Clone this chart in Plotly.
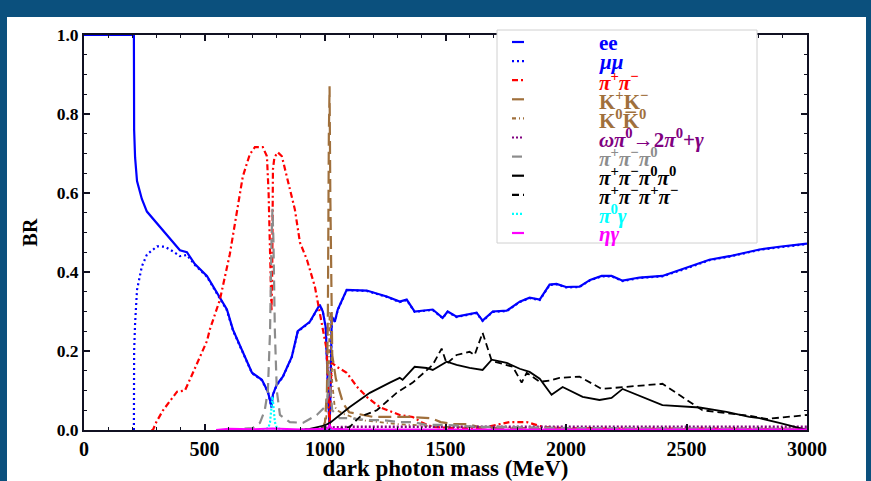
import plotly.graph_objects as go

# ---------------- data ----------------
ee_mass = [0, 207, 208, 212, 220, 240, 261, 300, 350, 398, 427, 460, 510, 564, 593, 618, 659, 697, 738, 763,
           772, 778, 784, 800, 825, 862, 887, 937, 978, 991, 1003, 1010, 1015, 1019, 1023, 1028, 1041, 1053,
           1090, 1173, 1256, 1310, 1339, 1372, 1447, 1488, 1509, 1546, 1629, 1654, 1696, 1754, 1808, 1849,
           1891, 1932, 1961, 2000, 2056, 2100, 2148, 2189, 2235, 2305, 2400, 2500, 2595, 2678, 2803, 2885, 3000]
ee_br = [1.0, 1.0, 0.76, 0.69, 0.63, 0.585, 0.553, 0.525, 0.49, 0.455, 0.45, 0.42, 0.39, 0.335, 0.305, 0.254,
         0.195, 0.145, 0.127, 0.097, 0.075, 0.058, 0.09, 0.115, 0.135, 0.185, 0.25, 0.274, 0.317, 0.30, 0.26,
         0.15, 0.08, 0.0, 0.1, 0.287, 0.275, 0.305, 0.355, 0.353, 0.338, 0.325, 0.33, 0.30, 0.305, 0.284, 0.30,
         0.287, 0.297, 0.277, 0.30, 0.302, 0.325, 0.335, 0.33, 0.368, 0.37, 0.362, 0.363, 0.38, 0.39, 0.39,
         0.378, 0.386, 0.39, 0.41, 0.431, 0.44, 0.457, 0.464, 0.472]

mumu_mass = [207, 208, 212, 220, 240, 261, 303, 336, 370, 398, 427, 460, 510, 564, 593, 618, 659, 697, 738,
             763, 772, 778, 784, 800, 825, 862, 887, 937, 978, 991, 1003, 1010, 1015, 1019, 1023, 1028, 1041,
             1053, 1090, 1173, 1256, 1310, 1339, 1372, 1447, 1488, 1509, 1546, 1629, 1654, 1696, 1754, 1808,
             1849, 1891, 1932, 1961, 2000, 2056, 2100, 2148, 2189, 2235, 2305, 2400, 2500, 2595, 2678, 2803,
             2885, 3000]
mumu_br = [0.0, 0.2, 0.27, 0.355, 0.414, 0.444, 0.465, 0.464, 0.452, 0.44, 0.443, 0.418, 0.388, 0.333, 0.303,
           0.252, 0.194, 0.144, 0.126, 0.096, 0.074, 0.057, 0.089, 0.114, 0.134, 0.184, 0.249, 0.273, 0.316,
           0.299, 0.259, 0.149, 0.08, 0.0, 0.1, 0.286, 0.274, 0.304, 0.354, 0.352, 0.337, 0.324, 0.329, 0.299,
           0.304, 0.283, 0.299, 0.286, 0.296, 0.276, 0.299, 0.301, 0.324, 0.334, 0.329, 0.367, 0.369, 0.361,
           0.362, 0.379, 0.389, 0.389, 0.377, 0.385, 0.389, 0.409, 0.43, 0.439, 0.456, 0.463, 0.471]

pipi_mass = [279, 286, 300, 328, 386, 419, 452, 481, 510, 522, 564, 605, 634, 659, 688, 709, 742, 759, 766,
             772, 778, 781, 784, 790, 804, 821, 846, 875, 896, 925, 958, 991, 1007, 1014, 1019, 1023, 1028,
             1049, 1090, 1132, 1173, 1227, 1310, 1364, 1405, 1447, 1550, 1650, 1712, 1766, 1837, 1903, 2000, 3000]
pipi_br = [0.0, 0.0, 0.02, 0.05, 0.097, 0.10, 0.145, 0.185, 0.225, 0.254, 0.33, 0.445, 0.55, 0.642, 0.698,
           0.716, 0.716, 0.693, 0.6, 0.45, 0.30, 0.40, 0.66, 0.69, 0.703, 0.693, 0.627, 0.558, 0.475, 0.431,
           0.363, 0.261, 0.203, 0.1, 0.0, 0.1, 0.17, 0.16, 0.145, 0.11, 0.084, 0.058, 0.038, 0.033, 0.018,
           0.008, 0.004, 0.005, 0.013, 0.02, 0.02, 0.008, 0.004, 0.003]

kk_mass = [987, 1000, 1008, 1012, 1016, 1019, 1022, 1026, 1030, 1045, 1075, 1100, 1200, 1270, 1350, 1440,
           1480, 1530, 1590, 1650, 1800, 3000]
kk_br = [0.0, 0.02, 0.1, 0.3, 0.75, 0.87, 0.6, 0.3, 0.19, 0.13, 0.068, 0.045, 0.033, 0.033, 0.033, 0.03,
         0.02, 0.015, 0.015, 0.006, 0.003, 0.002]

k0k0_mass = [995, 1005, 1012, 1016, 1019, 1022, 1026, 1030, 1040, 1050, 1080, 1150, 1300, 1500, 2000, 3000]
k0k0_br = [0.0, 0.03, 0.1, 0.15, 0.3, 0.3, 0.2, 0.12, 0.06, 0.05, 0.04, 0.025, 0.015, 0.008, 0.004, 0.002]

ompi_mass = [900, 950, 1000, 1100, 1500, 2000, 2500, 3000]
ompi_br = [0.0, 0.002, 0.006, 0.008, 0.008, 0.008, 0.008, 0.008]

pi3_mass = [600, 700, 730, 750, 763, 772, 778, 782, 786, 792, 800, 813, 854, 908, 966, 999, 1010, 1015, 1019,
            1023, 1030, 1061, 1100, 1181, 1240, 1310, 1365, 1422, 1488, 1642, 1725, 2000, 3000]
pi3_br = [0.0, 0.005, 0.018, 0.05, 0.10, 0.25, 0.48, 0.56, 0.48, 0.25, 0.1, 0.038, 0.02, 0.018, 0.038, 0.058,
          0.08, 0.12, 0.15, 0.1, 0.05, 0.03, 0.03, 0.025, 0.025, 0.02, 0.02, 0.013, 0.013, 0.008, 0.008,
          0.005, 0.003]

pi4n_mass = [900, 937, 1000, 1020, 1103, 1186, 1269, 1310, 1322, 1372, 1422, 1447, 1505, 1546, 1600, 1654,
             1692, 1754, 1808, 1849, 1891, 1940, 1986, 2069, 2139, 2189, 2235, 2318, 2400, 2554, 2666, 2761,
             2803, 2885, 3000]
pi4n_br = [0.0, 0.003, 0.012, 0.018, 0.058, 0.094, 0.12, 0.132, 0.127, 0.16, 0.157, 0.152, 0.173, 0.165,
           0.157, 0.152, 0.178, 0.17, 0.155, 0.147, 0.13, 0.089, 0.109, 0.084, 0.076, 0.081, 0.104, 0.084,
           0.063, 0.057, 0.046, 0.033, 0.03, 0.018, 0.0]

pi4c_mass = [1000, 1061, 1103, 1144, 1215, 1297, 1364, 1447, 1484, 1505, 1546, 1600, 1621, 1654, 1692, 1754,
             1779, 1816, 1837, 1891, 1932, 1973, 2056, 2148, 2251, 2400, 2566, 2761, 2832, 3000]
pi4c_br = [0.0, 0.003, 0.008, 0.033, 0.05, 0.094, 0.12, 0.165, 0.206, 0.168, 0.19, 0.198, 0.19, 0.246, 0.175,
           0.165, 0.16, 0.12, 0.145, 0.122, 0.125, 0.132, 0.135, 0.104, 0.109, 0.117, 0.05, 0.036, 0.028, 0.038]

pi0g_mass = [740, 765, 772, 778, 782, 786, 792, 800, 830, 3000]
pi0g_br = [0.0, 0.005, 0.02, 0.06, 0.085, 0.06, 0.02, 0.005, 0.0, 0.0]

etag_mass = [548, 600, 700, 782, 900, 1010, 1019, 1028, 1100, 3000]
etag_br = [0.0, 0.003, 0.002, 0.004, 0.001, 0.003, 0.012, 0.003, 0.001, 0.001]

x_tick_vals = [0, 500, 1000, 1500, 2000, 2500, 3000]
y_tick_vals = [0.0, 0.2, 0.4, 0.6, 0.8, 1.0]

legend_labels = [
    "<b>ee</b>",
    "<b><i>μμ</i></b>",
    "<b><i>π</i><sup>+</sup><i>π</i><sup>−</sup></b>",
    "<b>K<sup>+</sup>K<sup>−</sup></b>",
    "<b>K<sup>0</sup>K̅<sup>0</sup></b>",
    "<b><i>ωπ</i><sup>0</sup>→2<i>π</i><sup>0</sup>+<i>γ</i></b>",
    "<b><i>π</i><sup>+</sup><i>π</i><sup>−</sup><i>π</i><sup>0</sup></b>",
    "<b><i>π</i><sup>+</sup><i>π</i><sup>−</sup><i>π</i><sup>0</sup><i>π</i><sup>0</sup></b>",
    "<b><i>π</i><sup>+</sup><i>π</i><sup>−</sup><i>π</i><sup>+</sup><i>π</i><sup>−</sup></b>",
    "<b><i>π</i><sup>0</sup><i>γ</i></b>",
    "<b><i>ηγ</i></b>",
]

# ---------------- styles ----------------
series = [
    (ee_mass, ee_br, "#0000ff", "solid", 2.2),
    (mumu_mass, mumu_br, "#0000ff", "2px,3px", 2.2),
    (pipi_mass, pipi_br, "#ff0000", "6px,3px,2px,3px", 2.2),
    (kk_mass, kk_br, "#a0703c", "13px,6px", 2.2),
    (k0k0_mass, k0k0_br, "#a0703c", "4px,3px,1px,3px", 1.8),
    (ompi_mass, ompi_br, "#800080", "2px,2px", 2.5),
    (pi3_mass, pi3_br, "#8c8c8c", "10px,6px", 2.2),
    (pi4n_mass, pi4n_br, "#000000", "solid", 1.8),
    (pi4c_mass, pi4c_br, "#000000", "7px,4px", 1.8),
    (pi0g_mass, pi0g_br, "#00ffff", "2px,2px", 2.2),
    (etag_mass, etag_br, "#ff00ff", "solid", 2.0),
]

W, H = 871, 481
L, R, T, B = 84, 807, 35, 430  # plot area in pixels
BG = "#0b507d"


def px(xp):
    return (xp - L) / (R - L)


def py(yp):
    return (B - yp) / (B - T)


fig = go.Figure()
for (xs, ys, col, dash, wd), name in zip(series, legend_labels):
    fig.add_trace(go.Scatter(x=xs, y=ys, mode="lines", name=name, showlegend=False,
                             line=dict(color=col, dash=dash, width=wd)))

shapes = [
    # white slide panel
    dict(type="rect", xref="paper", yref="paper", x0=px(7), x1=px(866), y0=py(490), y1=py(17),
         fillcolor="white", line=dict(width=0), layer="below"),
    # legend box
    dict(type="rect", xref="paper", yref="paper", x0=px(497), x1=px(757), y0=py(243), y1=py(30),
         fillcolor="white", line=dict(color="#d0d0d0", width=1), layer="above"),
]
annotations = []
for i, ((xs, ys, col, dash, wd), lab) in enumerate(zip(series, legend_labels)):
    yc = 42 + 19.1 * i
    shapes.append(dict(type="line", xref="paper", yref="paper", x0=px(512), x1=px(524),
                       y0=py(yc), y1=py(yc), line=dict(color=col, dash=dash, width=2.2), layer="above"))
    annotations.append(dict(xref="paper", yref="paper", x=px(597), y=py(yc + 1), xanchor="left",
                            yanchor="middle", text=lab, showarrow=False,
                            font=dict(family="Liberation Serif", size=21, color=col)))

fig.update_layout(
    width=W, height=H,
    margin=dict(l=L, r=W - R, t=T, b=H - B),
    paper_bgcolor=BG,
    plot_bgcolor="white",
    shapes=shapes,
    annotations=annotations,
    showlegend=False,
    xaxis=dict(range=[0, 3000], tickvals=x_tick_vals, ticks="inside", ticklen=6, tickwidth=1.5,
               tickcolor="#111122", showline=True, linecolor="#111122", linewidth=2, mirror="ticks",
               showgrid=False, zeroline=False, automargin=False,
               minor=dict(ticks="inside", dtick=100, ticklen=3, tickwidth=1.2, tickcolor="#111122"),
               tickfont=dict(family="Liberation Serif", size=20, color="black", weight="bold"),
               title=dict(text="dark photon mass (MeV)", standoff=6,
                          font=dict(family="Liberation Serif", size=23, color="black", weight="bold"))),
    yaxis=dict(range=[0, 1.0], tickvals=y_tick_vals, tickformat=".1f", ticks="inside", ticklen=6,
               tickwidth=1.5, tickcolor="#111122", showline=True, linecolor="#111122", linewidth=2,
               mirror="ticks", showgrid=False, zeroline=False, automargin=False,
               minor=dict(ticks="inside", dtick=0.05, ticklen=3, tickwidth=1.2, tickcolor="#111122"),
               tickfont=dict(family="Liberation Serif", size=17.5, color="black", weight="bold"),
               title=dict(text="BR", standoff=14,
                          font=dict(family="Liberation Serif", size=20, color="black", weight="bold"))),
)

fig.write_html("out.html", config={"displayModeBar": False},
               post_script="document.body.style.margin='0';document.body.style.background='" + BG + "';"
                           "document.body.style.overflow='hidden';")
